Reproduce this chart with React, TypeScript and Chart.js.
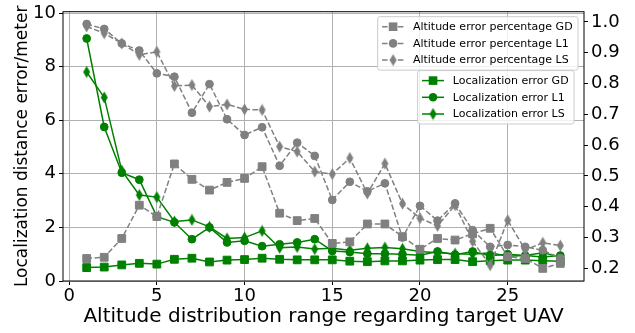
import React, { useEffect, useRef } from "react";
import { Chart, registerables } from "chart.js";

Chart.register(...registerables);

// Altitude distribution range (x values)
const ranges = [1, 2, 3, 4, 5, 6, 7, 8, 9, 10, 11, 12, 13, 14, 15, 16, 17, 18, 19, 20, 21, 22, 23, 24, 25, 26, 27, 28];

// Localization distance error (meters, left axis)
const locErrGD = [0.5, 0.52, 0.6, 0.66, 0.63, 0.81, 0.85, 0.71, 0.78, 0.8, 0.85, 0.81, 0.79, 0.79, 0.79, 0.74, 0.72, 0.75, 0.75, 0.78, 0.8, 0.8, 0.72, 0.76, 0.78, 0.78, 0.76, 0.74];
const locErrL1 = [9.05, 5.75, 4.04, 3.78, 2.4, 2.19, 1.56, 2.0, 1.44, 1.5, 1.3, 1.37, 1.44, 1.56, 1.12, 1.08, 1.02, 1.02, 1.0, 0.96, 1.1, 0.98, 1.1, 0.94, 1.0, 0.95, 0.9, 0.95];
const locErrLS = [7.8, 6.85, 4.12, 3.21, 3.13, 2.22, 2.28, 2.02, 1.59, 1.62, 1.87, 1.24, 1.27, 1.19, 1.22, 1.15, 1.22, 1.25, 1.2, 1.1, 1.05, 1.02, 1.0, 1.05, 0.92, 0.95, 1.05, 0.9];

// Altitude error percentage (right axis)
const altPctGD = [0.232, 0.236, 0.297, 0.405, 0.368, 0.539, 0.489, 0.454, 0.479, 0.492, 0.53, 0.379, 0.355, 0.362, 0.281, 0.286, 0.344, 0.344, 0.303, 0.262, 0.297, 0.292, 0.312, 0.33, 0.238, 0.232, 0.2, 0.216];
const altPctL1 = [0.993, 0.977, 0.93, 0.907, 0.833, 0.822, 0.705, 0.798, 0.684, 0.633, 0.658, 0.533, 0.608, 0.565, 0.422, 0.481, 0.45, 0.476, 0.3, 0.403, 0.355, 0.411, 0.324, 0.27, 0.276, 0.27, 0.259, 0.233];
const altPctLS = [0.985, 0.963, 0.93, 0.893, 0.903, 0.792, 0.795, 0.725, 0.732, 0.716, 0.714, 0.595, 0.579, 0.514, 0.506, 0.558, 0.443, 0.54, 0.41, 0.363, 0.338, 0.405, 0.288, 0.21, 0.356, 0.26, 0.283, 0.274];

// Axis ticks
const xTickValues = [0, 5, 10, 15, 20, 25];
const xTickLabels = ["0", "5", "10", "15", "20", "25"];
const leftTickValues = [0, 2, 4, 6, 8, 10];
const leftTickLabels = ["0", "2", "4", "6", "8", "10"];
const rightTickValues = [0.2, 0.3, 0.4, 0.5, 0.6, 0.7, 0.8, 0.9, 1.0];
const rightTickLabels = ["0.2", "0.3", "0.4", "0.5", "0.6", "0.7", "0.8", "0.9", "1.0"];

const FONT = "'DejaVu Sans', 'Liberation Sans', sans-serif";
const GRAY = "#808080";
const GREEN = "#008000";

type MarkerKind = "square" | "circle" | "diamond";

// Narrow diamond marker used for the LS series
function thinDiamond(color: string): HTMLCanvasElement {
  const w = 9;
  const h = 13;
  const c = document.createElement("canvas");
  c.width = w;
  c.height = h;
  const g = c.getContext("2d")!;
  g.fillStyle = color;
  g.beginPath();
  g.moveTo(w / 2, 0.5);
  g.lineTo(w - 1, h / 2);
  g.lineTo(w / 2, h - 0.5);
  g.lineTo(1, h / 2);
  g.closePath();
  g.fill();
  return c;
}

function drawMarker(ctx: CanvasRenderingContext2D, kind: MarkerKind, x: number, y: number, color: string, img: HTMLCanvasElement) {
  ctx.fillStyle = color;
  if (kind === "square") {
    ctx.fillRect(x - 4.3, y - 4.3, 8.6, 8.6);
  } else if (kind === "circle") {
    ctx.beginPath();
    ctx.arc(x, y, 4.3, 0, Math.PI * 2);
    ctx.fill();
  } else {
    ctx.drawImage(img, x - img.width / 2, y - img.height / 2);
  }
}

function pairs(xs: number[], ys: number[]) {
  return xs.map((x, i) => ({ x, y: ys[i] }));
}

export default function App() {
  const canvasRef = useRef<HTMLCanvasElement | null>(null);

  useEffect(() => {
    const canvas = canvasRef.current;
    if (!canvas) return;

    const grayDiamond = thinDiamond(GRAY);
    const greenDiamond = thinDiamond(GREEN);

    const markerStyle = (kind: MarkerKind, color: string) => {
      if (kind === "diamond") {
        return { pointStyle: color === GRAY ? grayDiamond : greenDiamond };
      }
      if (kind === "square") {
        return { pointStyle: "rect", pointRadius: 5.5, pointHoverRadius: 5.5 };
      }
      return { pointStyle: "circle", pointRadius: 3.9, pointHoverRadius: 3.9 };
    };

    const series = (label: string, values: number[], color: string, kind: MarkerKind, axis: string, dashed: boolean) => ({
      label,
      data: pairs(ranges, values),
      yAxisID: axis,
      borderColor: color,
      backgroundColor: color,
      pointBackgroundColor: color,
      pointBorderColor: color,
      pointBorderWidth: 1,
      borderWidth: 1.5,
      borderDash: dashed ? [5.5, 2.4] : [],
      tension: 0,
      showLine: true,
      ...markerStyle(kind, color),
    });

    const grayItems: [string, MarkerKind][] = [
      ["Altitude error percentage GD", "square"],
      ["Altitude error percentage L1", "circle"],
      ["Altitude error percentage LS", "diamond"],
    ];
    const greenItems: [string, MarkerKind][] = [
      ["Localization error GD", "square"],
      ["Localization error L1", "circle"],
      ["Localization error LS", "diamond"],
    ];

    const drawLegendBox = (
      ctx: CanvasRenderingContext2D,
      items: [string, MarkerKind][],
      right: number,
      top: number,
      color: string,
      dashed: boolean,
      img: HTMLCanvasElement
    ) => {
      const fs = 11;
      const pad = 4.4;
      const handle = 22;
      const gap = 8.8;
      const rowH = 11.2;
      const spacing = 5.5;
      ctx.font = `${fs}px ${FONT}`;
      const textW = Math.max(...items.map(([t]) => ctx.measureText(t).width));
      const width = pad + handle + gap + textW + pad + 1;
      const height = pad * 2 + rowH * items.length + spacing * (items.length - 1);
      const left = right - width;
      ctx.beginPath();
      ctx.roundRect(left, top, width, height, 2.2);
      ctx.fillStyle = "rgba(255,255,255,0.8)";
      ctx.fill();
      ctx.strokeStyle = "#cccccc";
      ctx.lineWidth = 1;
      ctx.stroke();
      items.forEach(([text, kind], i) => {
        const cy = top + pad + rowH / 2 + i * (rowH + spacing);
        const hx = left + pad;
        ctx.save();
        ctx.strokeStyle = color;
        ctx.lineWidth = 1.5;
        ctx.setLineDash(dashed ? [5.5, 2.4] : []);
        ctx.beginPath();
        ctx.moveTo(hx, cy);
        ctx.lineTo(hx + handle, cy);
        ctx.stroke();
        ctx.restore();
        drawMarker(ctx, kind, hx + handle / 2, cy, color, img);
        ctx.fillStyle = "#000";
        ctx.textBaseline = "middle";
        ctx.textAlign = "left";
        ctx.fillText(text, hx + handle + gap, cy + 0.5);
      });
      return top + height;
    };

    // Axes frame on all four sides, then the two legend boxes
    const framePlugin = {
      id: "frameAndLegends",
      afterDatasetsDraw(chart: any) {
        const { ctx, chartArea } = chart;
        ctx.save();
        ctx.strokeStyle = "#000";
        ctx.lineWidth = 1;
        ctx.strokeRect(chartArea.left, chartArea.top, chartArea.right - chartArea.left, chartArea.bottom - chartArea.top);
        const bottom = drawLegendBox(ctx, grayItems, chartArea.right - 6, chartArea.top + 5, GRAY, true, grayDiamond);
        drawLegendBox(ctx, greenItems, chartArea.right - 10, bottom + 0.5, GREEN, false, greenDiamond);
        ctx.restore();
      },
    };

    const tickFont = { family: FONT, size: 18 };

    const chart = new Chart(canvas, {
      type: "line",
      data: {
        datasets: [
          series("Altitude error percentage LS", altPctLS, GRAY, "diamond", "y2", true),
          series("Altitude error percentage L1", altPctL1, GRAY, "circle", "y2", true),
          series("Altitude error percentage GD", altPctGD, GRAY, "square", "y2", true),
          series("Localization error LS", locErrLS, GREEN, "diamond", "y", false),
          series("Localization error L1", locErrL1, GREEN, "circle", "y", false),
          series("Localization error GD", locErrGD, GREEN, "square", "y", false),
        ] as any,
      },
      options: {
        animation: false,
        responsive: false,
        devicePixelRatio: 1,
        layout: { padding: { top: 11.7, left: 0, right: 0, bottom: 0 } },
        plugins: { legend: { display: false }, tooltip: { enabled: false } },
        scales: {
          x: {
            type: "linear",
            position: "bottom",
            min: -0.35,
            max: 29.35,
            afterBuildTicks: (s: any) => {
              s.ticks = xTickValues.map((value) => ({ value }));
            },
            afterFit: (s: any) => {
              s.height = 52;
              s.paddingLeft = 0;
              s.paddingRight = 0;
            },
            border: { display: false },
            grid: { color: "#b0b0b0", lineWidth: 1, tickColor: "#000", tickLength: 4, drawTicks: true },
            ticks: {
              font: tickFont,
              color: "#000",
              padding: 1,
              maxRotation: 0,
              autoSkip: false,
              callback: (_v: any, i: number) => xTickLabels[i],
            },
            title: {
              display: true,
              text: "Altitude distribution range regarding target UAV",
              font: { family: FONT, size: 20 },
              color: "#000",
              padding: { top: 0, bottom: 4 },
            },
          },
          y: {
            type: "linear",
            position: "left",
            min: 0,
            max: 10.05,
            afterBuildTicks: (s: any) => {
              s.ticks = leftTickValues.map((value) => ({ value }));
            },
            afterFit: (s: any) => {
              s.width = 63;
              s.paddingTop = 0;
              s.paddingBottom = 0;
            },
            border: { display: false },
            grid: { color: "#b0b0b0", lineWidth: 1, tickColor: "#000", tickLength: 4, drawTicks: true },
            ticks: {
              font: tickFont,
              color: "#000",
              padding: 3,
              autoSkip: false,
              callback: (_v: any, i: number) => leftTickLabels[i],
            },
            title: {
              display: true,
              text: "Localization distance error/meter",
              font: { family: FONT, size: 17 },
              color: "#000",
              padding: { top: 12.8, bottom: 0 },
            },
          },
          y2: {
            type: "linear",
            position: "right",
            min: 0.159,
            max: 1.033,
            afterBuildTicks: (s: any) => {
              s.ticks = rightTickValues.map((value) => ({ value }));
            },
            afterFit: (s: any) => {
              s.width = 51;
              s.paddingTop = 0;
              s.paddingBottom = 0;
            },
            border: { display: false },
            grid: { drawOnChartArea: false, tickColor: "#000", tickLength: 4, drawTicks: true },
            ticks: {
              font: tickFont,
              color: "#000",
              padding: 3,
              autoSkip: false,
              callback: (_v: any, i: number) => rightTickLabels[i],
            },
          },
        },
      } as any,
      plugins: [framePlugin],
    });

    return () => chart.destroy();
  }, []);

  return (
    <div style={{ position: "absolute", left: 0, top: 0, width: 635, height: 333, background: "#fff" }}>
      <canvas ref={canvasRef} width={635} height={333} />
    </div>
  );
}
